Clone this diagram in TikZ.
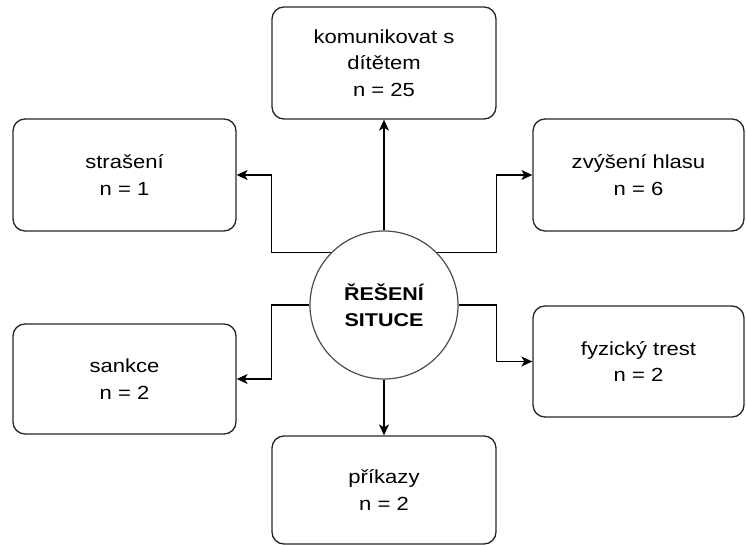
\documentclass[tikz,border=0pt]{standalone}
\usepackage{fontspec}
\setmainfont[FakeStretch=1.16]{Liberation Sans}
\usetikzlibrary{arrows.meta,positioning}

\tikzset{
  box/.style={draw=black!85, rounded corners=12pt, line width=1.3pt, align=center,
    inner sep=0pt, font=\fontsize{19}{26.5}\selectfont},
  hub/.style={draw=black!70, circle, line width=1.2pt, minimum size=148pt, inner sep=0pt,
    align=center, font=\fontsize{18.5}{26}\selectfont\bfseries},
  arr/.style={-{Stealth[length=11pt,width=10pt,inset=3pt]}, line width=1.3pt}
}

\begin{document}
\begin{tikzpicture}[x=1pt,y=-1pt]
            \useasboundingbox (0,0) rectangle (746,545);
            \node [hub] (c) at (384,305) {ŘEŠENÍ\\SITUCE};
            \node [box, minimum width=224pt, minimum height=112pt] (kom) at (384,63) {komunikovat s\\dítětem\\n = 25};
            \node [box, minimum width=223pt, minimum height=112pt] (strasen) at (124.5,175) {strašení\\n = 1};
            \node [box, minimum width=211pt, minimum height=112pt] (zvys) at (638.5,175) {zvýšení hlasu\\n = 6};
            \node [box, minimum width=223pt, minimum height=110pt] (sankce) at (124.5,379) {sankce\\n = 2};
            \node [box, minimum width=211pt, minimum height=111pt] (fyz) at (638.5,361.5) {fyzický trest\\n = 2};
            \node [box, minimum width=224pt, minimum height=108pt] (prik) at (384,490) {příkazy\\n = 2};
            \draw [arr] (c.north) -- (kom.south);
            \draw [arr] (c.south) -- (prik.north);
            \draw [arr] (c.135) -- (c.135 -| kom.west) |- (strasen.east);
            \draw [arr] (c.45) -- (c.45 -| kom.east) |- (zvys.west);
            \draw [arr] (c.west) -- (c.west -| kom.west) |- (sankce.east);
            \draw [arr] (c.east) -- (c.east -| kom.east) |- (fyz.west);
\end{tikzpicture}
\end{document}
